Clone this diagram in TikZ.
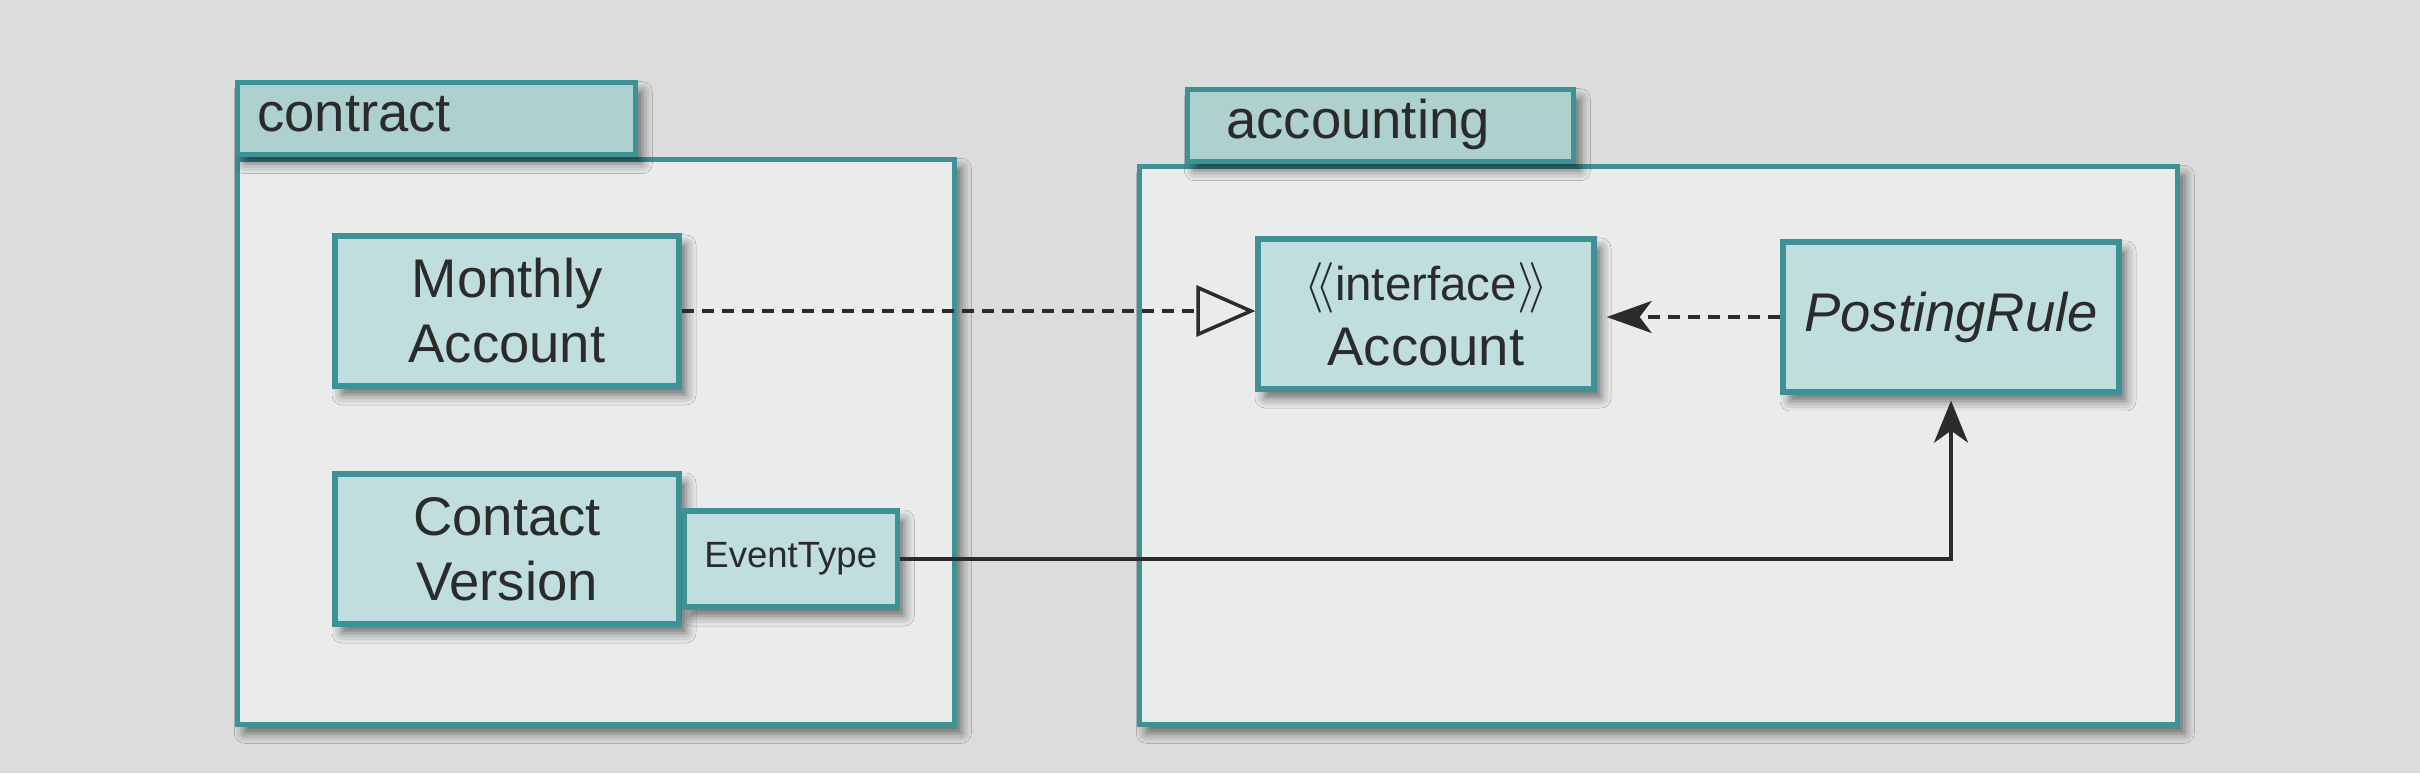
\documentclass[tikz,border=0pt]{standalone}
\usepackage{fontspec}
\setmainfont{Liberation Sans}
\usetikzlibrary{arrows.meta}
\usetikzlibrary{shadows.blur}
\definecolor{paper}{HTML}{DADDDC}
\definecolor{pkgfill}{HTML}{E9ECEB}
\definecolor{tabfill}{HTML}{AED1D0}
\definecolor{boxfill}{HTML}{C1DEDE}
\definecolor{tealline}{HTML}{3E9296}
\definecolor{ink}{HTML}{2B2B2B}

\begin{document}
\begin{tikzpicture}[line width=1pt,
    shade/.style={blur shadow={shadow xshift=0.07cm, shadow yshift=-0.09cm, shadow blur radius=0.1cm, shadow opacity=55}},
    pkgbody/.style={rectangle, draw=tealline, line width=1.3pt, fill=pkgfill, inner sep=0pt, shade},
    pkgtab/.style={rectangle, draw=tealline, line width=1.3pt, fill=tabfill, text=ink, align=left, minimum height=0.72cm, text height=10pt, text depth=3pt, font=\fontsize{15.5}{18}\selectfont, shade},
    classbox/.style={rectangle, draw=tealline, line width=1.5pt, fill=boxfill, text=ink, align=center, minimum width=3.4cm, minimum height=1.5cm, font=\fontsize{15.5}{18.5}\selectfont, shade},
    dashline/.style={draw=ink, dash pattern=on 0.12cm off 0.08cm}]

    \useasboundingbox [fill=paper] (0,0) rectangle (24.2,7.73);

    % packages
    \node [pkgbody, minimum width=7.17cm, minimum height=5.65cm, anchor=north west] (contract) at (2.35,6.16) {};
    \node [pkgtab, inner xsep=0.2cm, text width=3.58cm, anchor=south west] (contracttab) at (contract.north west) {contract};

    \node [pkgbody, minimum width=10.38cm, minimum height=5.58cm, anchor=north west] (accounting) at (11.37,6.09) {};
    \node [pkgtab, inner xsep=0.39cm, text width=3.08cm, anchor=south west] (accountingtab) at ([xshift=0.48cm]accounting.north west) {accounting};

    % classes
    \node [classbox, minimum width=3.44cm] (monthly) at (5.07,4.62) {Monthly\\Account};
    \node [classbox, minimum width=3.44cm] (version) at (5.07,2.24) {Contact\\Version};
    \node [classbox, minimum width=2.13cm, minimum height=0.96cm, font=\fontsize{10.4}{12}\selectfont, anchor=west] (eventtype) at ([yshift=-0.1cm]version.east) {EventType};

    \node [classbox, minimum width=3.36cm] (account) at (14.26,4.59) {{\fontsize{13.5}{18.5}\selectfont$\langle\!\langle$interface$\rangle\!\rangle$}\\Account};
    \node [classbox, minimum width=3.36cm, font=\fontsize{15.5}{18.5}\selectfont\itshape] (posting) at (19.51,4.56) {PostingRule};

    % relations
    \draw [dashline, -{Triangle[open, length=0.59cm, width=0.51cm]}] (monthly.east) -- (account.west |- monthly.east);
    \draw [dashline, -{Stealth[length=0.45cm, width=0.32cm, inset=0.12cm]}, shorten >=0.1cm] (posting.west) -- (account.east |- posting.west);
    \draw [draw=ink, -{Stealth[length=0.42cm, width=0.34cm, inset=0.12cm]}, shorten >=0.06cm] (eventtype.east) -| (posting.south);

\end{tikzpicture}
\end{document}
